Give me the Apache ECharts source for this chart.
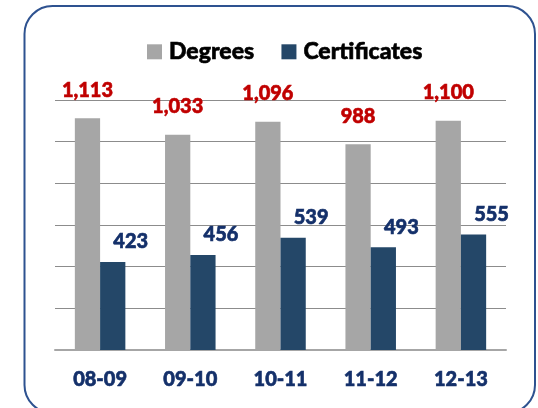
<!DOCTYPE html>
<html>
<head>
<meta charset="utf-8">
<script src="https://cdn.jsdelivr.net/npm/echarts@6/dist/echarts.min.js"></script>
<style>
  html, body { margin: 0; padding: 0; background: #fff; }
  #main { width: 538px; height: 408px; }
</style>
</head>
<body>
<div id="main"></div>
<script>
let years = ['08-09', '09-10', '10-11', '11-12', '12-13'];
let degrees = [1113, 1033, 1096, 988, 1100];
let certificates = [423, 456, 539, 493, 555];

let myChart = echarts.init(document.getElementById('main'));

// Calibri bold look: Lato heavy weight plus a thin stroke of the same colour
function boldText(color, size) {
    return {
        fontFamily: 'Lato',
        fontWeight: 900,
        fontSize: size,
        color: color,
        textBorderColor: color,
        textBorderWidth: 0.6
    };
}

let option = {
    textStyle: {
        fontFamily: 'Lato'
    },
    graphic: [{
        type: 'rect',
        shape: { x: 24.5, y: 6, width: 510.5, height: 407, r: 28 },
        style: { fill: 'none', stroke: '#2E5290', lineWidth: 2 },
        silent: true
    }],
    legend: {
        data: ['Degrees', 'Certificates'],
        top: 35,
        left: 142,
        icon: 'rect',
        itemWidth: 15,
        itemHeight: 15,
        itemGap: 27,
        textStyle: Object.assign({ padding: [0, 0, 0, 2] }, boldText('#000', 23))
    },
    grid: {
        left: 55,
        right: 32,
        top: 100,
        bottom: 58
    },
    xAxis: {
        type: 'category',
        data: years,
        axisTick: { show: false },
        axisLine: { lineStyle: { color: '#A6A6A6', width: 2 } },
        axisLabel: Object.assign({ margin: 20 }, boldText('#14306A', 20))
    },
    yAxis: {
        type: 'value',
        min: 0,
        max: 1200,
        interval: 200,
        axisLabel: { show: false },
        splitLine: { lineStyle: { color: '#8C8C8C', width: 1 } }
    },
    series: [{
        name: 'Degrees',
        type: 'bar',
        data: degrees,
        barWidth: '28%',
        barGap: '0%',
        itemStyle: { color: '#A6A6A6' },
        label: Object.assign({
            show: true,
            position: 'top',
            distance: 18,
            formatter: p => p.value.toLocaleString('en-US')
        }, boldText('#C00000', 20))
    }, {
        name: 'Certificates',
        type: 'bar',
        data: certificates,
        barWidth: '28%',
        itemStyle: { color: '#244768' },
        label: Object.assign({
            show: true,
            position: 'top',
            distance: 10,
            offset: [18, 0]
        }, boldText('#14306A', 20))
    }]
};

myChart.setOption(option);
</script>
</body>
</html>
